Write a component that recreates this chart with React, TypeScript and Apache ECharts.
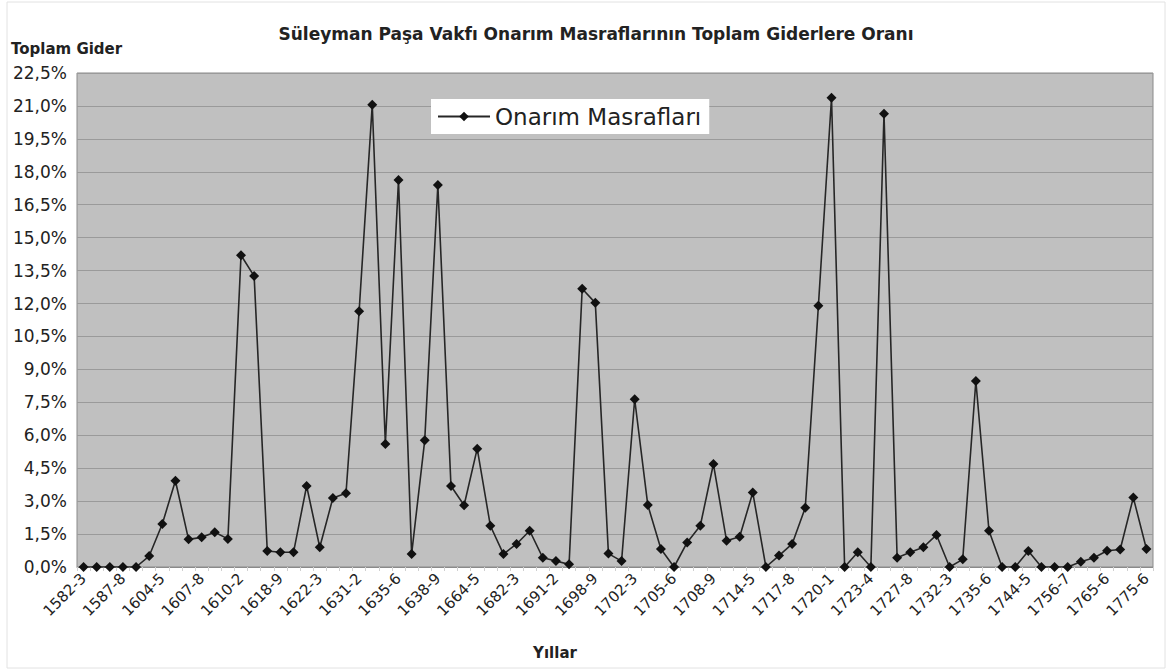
import React, { useEffect, useRef } from "react";
import * as echarts from "echarts";

const tickLabels = [
  "1582-3", "1587-8", "1604-5", "1607-8", "1610-2", "1618-9", "1622-3",
  "1631-2", "1635-6", "1638-9", "1664-5", "1682-3", "1691-2", "1698-9",
  "1702-3", "1705-6", "1708-9", "1714-5", "1717-8", "1720-1", "1723-4",
  "1727-8", "1732-3", "1735-6", "1744-5", "1756-7", "1765-6", "1775-6",
];

// Onarım masraflarının toplam giderlere oranı (%), 82 dönem
const repairShare = [
  0, 0, 0, 0, 0, 0.5, 1.96, 3.93, 1.26, 1.35, 1.58, 1.28,
  14.2, 13.25, 0.73, 0.67, 0.67, 3.69, 0.9, 3.14, 3.36, 11.65,
  21.05, 5.6, 17.63, 0.59, 5.77, 17.4, 3.69, 2.81, 5.39, 1.88,
  0.59, 1.05, 1.65, 0.42, 0.27, 0.12, 12.67, 12.03, 0.61, 0.27,
  7.64, 2.82, 0.82, 0, 1.12, 1.88, 4.69, 1.2, 1.38, 3.39,
  0, 0.52, 1.05, 2.7, 11.9, 21.37, 0, 0.67, 0, 20.64,
  0.42, 0.67, 0.9, 1.46, 0, 0.35, 8.47, 1.65, 0, 0,
  0.73, 0, 0, 0, 0.24, 0.42, 0.74, 0.8, 3.16, 0.82,
];

const categories = repairShare.map((_, i) =>
  i % 3 === 0 && tickLabels[i / 3] ? tickLabels[i / 3] : ""
);

export default function App() {
  const ref = useRef<HTMLDivElement>(null);
  useEffect(() => {
    if (!ref.current) return;
    const chart = echarts.init(ref.current, null, { renderer: "svg" });
    const font = "'DejaVu Sans', 'Liberation Sans', Arial, sans-serif";
    chart.setOption({
      animation: false,
      backgroundColor: "#ffffff",
      textStyle: { fontFamily: font },
      title: {
        text: "Süleyman Paşa Vakfı Onarım Masraflarının Toplam Giderlere Oranı",
        left: 591,
        textAlign: "center",
        top: 20,
        textStyle: { fontFamily: font, fontSize: 17, fontWeight: "bold", color: "#222" },
      },
      legend: {
        left: 431,
        top: 99,
        backgroundColor: "#ffffff",
        padding: [6, 8, 6, 6],
        itemWidth: 52,
        itemHeight: 12,
        itemGap: 6,
        textStyle: { fontFamily: font, fontSize: 23, color: "#222" },
        data: ["Onarım Masrafları"],
      },
      grid: {
        left: 77,
        right: 13,
        top: 73,
        bottom: 105,
        show: true,
        backgroundColor: "#c0c0c0",
        borderColor: "#8a8a8a",
        borderWidth: 1,
      },
      xAxis: {
        type: "category",
        data: categories,
        boundaryGap: true,
        name: "Yıllar",
        nameLocation: "middle",
        nameGap: 78,
        nameTextStyle: {
          fontFamily: font, fontSize: 15, fontWeight: "bold", color: "#222",
          padding: [0, 120, 0, 0],
        },
        axisLine: { show: true, lineStyle: { color: "#8a8a8a", width: 1 } },
        axisTick: { show: true, interval: 0, length: 4, lineStyle: { color: "#d0d0d0" } },
        axisLabel: {
          interval: 2,
          rotate: 45,
          margin: 9,
          fontSize: 15,
          color: "#222",
          fontFamily: font,
        },
        splitLine: { show: false },
      },
      yAxis: {
        type: "value",
        min: 0,
        max: 22.5,
        interval: 1.5,
        name: "Toplam Gider",
        nameLocation: "end",
        nameGap: 17,
        nameTextStyle: {
          fontFamily: font, fontSize: 15, fontWeight: "bold", color: "#222",
          align: "left", padding: [0, 0, 0, -66],
        },
        axisLine: { show: false },
        axisTick: { show: false },
        axisLabel: {
          margin: 10,
          fontSize: 17,
          color: "#222",
          fontFamily: font,
          formatter: (v: number) => v.toFixed(1).replace(".", ",") + "%",
        },
        splitLine: { show: true, lineStyle: { color: "#9a9a9a", width: 1 } },
      },
      series: [
        {
          name: "Onarım Masrafları",
          type: "line",
          data: repairShare,
          symbol: "diamond",
          symbolSize: 10,
          showAllSymbol: true,
          lineStyle: { color: "#262626", width: 1.6 },
          itemStyle: { color: "#111111" },
        },
      ],
      graphic: [
        {
          type: "rect",
          shape: { x: 7, y: 2, width: 1158, height: 666 },
          style: { fill: "none", stroke: "#e2e2e2", lineWidth: 1 },
          silent: true,
        },
      ],
    });
    return () => chart.dispose();
  }, []);
  return (
    <div
      ref={ref}
      style={{ position: "absolute", left: 0, top: 0, width: 1166, height: 672 }}
    />
  );
}
